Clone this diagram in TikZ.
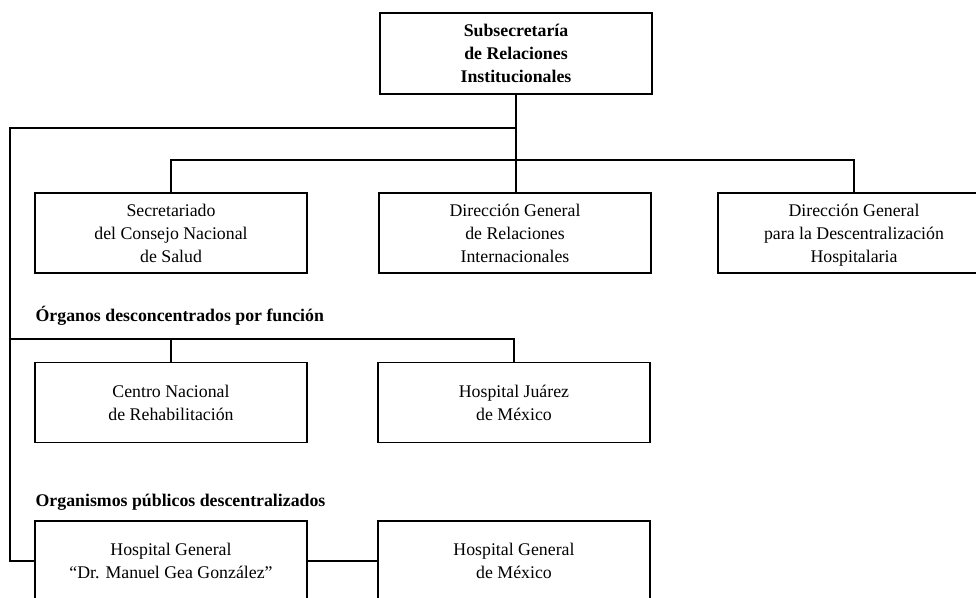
\documentclass[tikz,border=0pt]{standalone}
\usepackage{fontspec}
\setmainfont{Liberation Serif}
\tikzset{unidad/.style={draw,line width=1.3pt,minimum width=272pt,minimum height=80pt,
  inner sep=0pt,align=center,text depth=0pt,font=\fontsize{17.8}{23}\selectfont},
  titulo/.style={anchor=west,inner sep=0pt,font=\fontsize{17.8}{23}\selectfont\bfseries}}
\begin{document}
\begin{tikzpicture}[x=1pt,y=-1pt,line width=1.3pt]
\useasboundingbox (0,0) rectangle (976,597);
\node[unidad,font=\fontsize{17.8}{23}\selectfont\bfseries,minimum height=81pt] (srin) at (516,53.5)
  {Subsecretaría\\de Relaciones\\Institucionales};
% primer nivel
\node[unidad] (scns) at (171,233) {Secretariado\\del Consejo Nacional\\de Salud};
\node[unidad] (dgri) at (515,233) {Dirección General\\de Relaciones\\Internacionales};
\node[unidad] (dgdh) at (854,233) {Dirección General\\para la Descentralización\\Hospitalaria};
\node[titulo] (odf) at (35,316) {Órganos desconcentrados por función};
\node[unidad] (cnr) at (171,402.5) {Centro Nacional\\de Rehabilitación};
\node[unidad] (hjm) at (514,402.5) {Hospital Juárez\\de México};
\node[titulo] (opd) at (35,502) {Organismos públicos descentralizados};
\node[unidad] (hgmg) at (171,561) {Hospital General\\``Dr. Manuel Gea González''};
\node[unidad] (hgm) at (514,561) {Hospital General\\de México};
% lineas
\coordinate (eje) at (10,128);
\coordinate (eje2) at (10,339);
\draw (srin.south) -- (srin.south |- dgri.north);
\draw (srin.south |- eje) -- (eje) |- (hgmg.west);
\draw (scns.north) |- (dgdh.north |- 0,160) -- (dgdh.north);
\draw (eje2) -| (hjm.north);
\draw (eje2 -| cnr.north) -- (cnr.north);
\draw (hgmg.east) -- (hgm.west);
\end{tikzpicture}
\end{document}
